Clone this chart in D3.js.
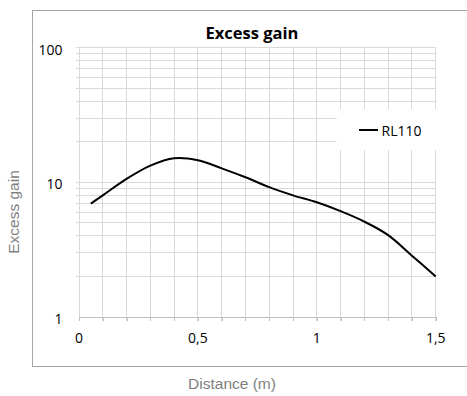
<!DOCTYPE html>
<html><head><meta charset="utf-8">
<script src="https://cdn.jsdelivr.net/npm/d3@7"></script>
<style>body{margin:0;background:#fff;}svg{display:block;}</style>
</head><body>
<svg id="c" width="467" height="396"></svg>
<script>
const distances = [0.05, 0.1, 0.2, 0.3, 0.4, 0.5, 0.6, 0.7, 0.8, 0.9, 1.0, 1.1, 1.2, 1.3, 1.4, 1.5];
const gainRL110 = [6.95, 8.0, 10.6, 13.3, 15.1, 14.6, 12.7, 10.9, 9.2, 8.0, 7.1, 6.1, 5.1, 4.05, 2.85, 2.0];
const xTicks = [0, 0.5, 1, 1.5];
const yTicks = [1, 10, 100];
const seriesName = "RL110";
const chartTitle = "Excess gain";
const xTitle = "Distance (m)";
const yTitle = "Excess gain";

const svg = d3.select("#c");
const L = 79, R = 435.7, T = 47.7, B = 316.9;
const x = d3.scaleLinear().domain([0, 1.5]).range([L, R]);
const y = d3.scaleLog().domain([1, 100]).range([B, T]);
const fmt = d => String(d).replace(".", ",");

// outer chart border
svg.append("rect").attr("x", 32.5).attr("y", 10.5).attr("width", 450).attr("height", 356)
  .attr("fill", "#fff").attr("stroke", "#a6a6a6").attr("stroke-width", 1);

// gridlines
const grid = svg.append("g").attr("stroke", "#d9d9d9").attr("stroke-width", 1).attr("shape-rendering", "crispEdges");
const xGrid = d3.range(1, 16).map(i => i / 10);
grid.selectAll(".vx").data(xGrid).join("line")
  .attr("x1", d => x(d)).attr("x2", d => x(d)).attr("y1", T).attr("y2", B + 4);
const yGrid = [];
[1, 10].forEach(dec => { for (let k = 1; k <= 10; k++) { const v = dec * k; if (v > 1) yGrid.push(v); } });
grid.selectAll(".hy").data(yGrid).join("line")
  .attr("x1", L - 3).attr("x2", R).attr("y1", d => y(d)).attr("y2", d => y(d));
// left axis line
grid.append("line").attr("x1", L).attr("x2", L).attr("y1", T).attr("y2", B);
// bottom axis
const xAxis = d3.axisBottom(x).tickValues(d3.range(0, 16).map(i => i / 10)).tickSize(4).tickFormat("");
const gx = svg.append("g").attr("transform", `translate(0,${B})`).call(xAxis);
gx.select(".domain").attr("stroke", "#bfbfbf").attr("shape-rendering", "crispEdges");
gx.selectAll(".tick line").attr("stroke", "#bfbfbf").attr("shape-rendering", "crispEdges");

// tick labels
svg.append("g").selectAll("text").data(xTicks).join("text")
  .attr("x", d => x(d)).attr("y", B + 21).attr("text-anchor", "middle").attr("dominant-baseline", "central")
  .attr("font-family", "'Open Sans', sans-serif").attr("font-size", 14).attr("fill", "#000").text(fmt);
svg.append("g").selectAll("text").data(yTicks).join("text")
  .attr("x", 62.5).attr("y", d => y(d) + 1.5).attr("text-anchor", "end").attr("dominant-baseline", "central")
  .attr("font-family", "'Open Sans', sans-serif").attr("font-size", 14).attr("fill", "#000").text(d => d);

// legend
svg.append("rect").attr("x", 336.7).attr("y", 109).attr("width", 101).attr("height", 41).attr("fill", "#fff");
svg.append("line").attr("x1", 359).attr("x2", 378).attr("y1", 130).attr("y2", 130).attr("stroke", "#000").attr("stroke-width", 2);
svg.append("text").attr("x", 381.5).attr("y", 130).attr("dominant-baseline", "central")
  .attr("font-family", "'Open Sans', sans-serif").attr("font-size", 14).attr("fill", "#000").text(seriesName);

// series
const line = d3.line().x((d, i) => x(distances[i])).y(d => y(d)).curve(d3.curveCatmullRom.alpha(0.5));
svg.append("path").datum(gainRL110).attr("d", line).attr("fill", "none").attr("stroke", "#000").attr("stroke-width", 2);

// titles
svg.append("text").attr("x", 252).attr("y", 39).attr("text-anchor", "middle")
  .attr("font-family", "'Open Sans', sans-serif").attr("font-weight", "bold").attr("font-size", 16.5).attr("fill", "#000").text(chartTitle);
svg.append("text").attr("x", 232).attr("y", 383).attr("text-anchor", "middle").attr("dominant-baseline", "central")
  .attr("font-family", "'Liberation Sans', Arial, sans-serif").attr("font-size", 15.5).attr("fill", "#808080").text(xTitle);
svg.append("text").attr("transform", "translate(13.5,212) rotate(-90)").attr("text-anchor", "middle").attr("dominant-baseline", "central")
  .attr("font-family", "'Liberation Sans', Arial, sans-serif").attr("font-size", 15.5).attr("fill", "#808080").text(yTitle);
</script>
</body></html>
